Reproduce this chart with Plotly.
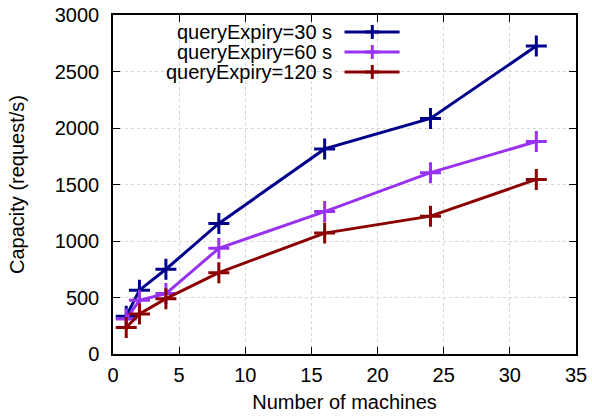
import plotly.graph_objects as go

machines = [1, 2, 4, 8, 16, 24, 32]
cap_30 = [335, 565, 750, 1155, 1815, 2085, 2725]
cap_60 = [310, 475, 535, 935, 1260, 1605, 1880]
cap_120 = [235, 355, 490, 720, 1070, 1220, 1545]
names = ["queryExpiry=30 s", "queryExpiry=60 s", "queryExpiry=120 s"]
colors = ["#00008b", "#9932f0", "#8b0000"]
series = [cap_30, cap_60, cap_120]

FONT = "Liberation Sans, Arial, sans-serif"
FS = 20

fig = go.Figure()
for name, col, ys in zip(names, colors, series):
    fig.add_trace(go.Scatter(
        x=machines, y=ys, name=name, mode="lines+markers",
        line=dict(color=col, width=3),
        marker=dict(symbol="cross-thin", size=15, line=dict(color=col, width=3)),
        showlegend=False,
    ))

# manual gnuplot-style key: text right-aligned, sample to the right
key_y = [0.950, 0.891, 0.832]
text_x = 0.477
line_x0, line_x1, mark_x = 0.50, 0.619, 0.56
hx, hy = 7 / 463, 7 / 339
for name, col, ky in zip(names, colors, key_y):
    fig.add_annotation(xref="paper", yref="paper", x=text_x, y=ky, text=name,
                       showarrow=False, xanchor="right", yanchor="middle",
                       font=dict(family=FONT, size=FS, color="black"))
    fig.add_shape(type="line", xref="paper", yref="paper", x0=line_x0, x1=line_x1,
                  y0=ky, y1=ky, line=dict(color=col, width=3))
    fig.add_shape(type="line", xref="paper", yref="paper", x0=mark_x, x1=mark_x,
                  y0=ky - hy, y1=ky + hy, line=dict(color=col, width=3))
    fig.add_shape(type="line", xref="paper", yref="paper", x0=mark_x - hx, x1=mark_x + hx,
                  y0=ky, y1=ky, line=dict(color=col, width=3))

axis_common = dict(
    showline=True, linecolor="black", linewidth=1.5, mirror="ticks",
    ticks="inside", ticklen=7, tickwidth=1, tickcolor="black",
    showgrid=True, gridcolor="#d4d4d4", griddash="dot", gridwidth=1,
    zeroline=False, automargin=False,
    tickfont=dict(family=FONT, size=FS, color="black"),
)
fig.update_xaxes(range=[0, 35], dtick=5, tick0=0,
                 title=dict(text="Number of machines", font=dict(family=FONT, size=FS, color="black"), standoff=10),
                 ticklabelstandoff=2, **axis_common)
fig.update_yaxes(range=[0, 3000], dtick=500, tick0=0,
                 title=dict(text="Capacity (request/s)", font=dict(family=FONT, size=FS, color="black"), standoff=25),
                 ticklabelstandoff=8, **axis_common)

fig.update_layout(
    width=592, height=418,
    margin=dict(l=113, r=16, t=15, b=64),
    plot_bgcolor="white", paper_bgcolor="white",
    font=dict(family=FONT, size=FS, color="black"),
)
fig.write_html("out.html", config={"displayModeBar": False},
               post_script="document.body.style.margin='0';document.body.style.padding='0';document.body.style.overflow='hidden';")
